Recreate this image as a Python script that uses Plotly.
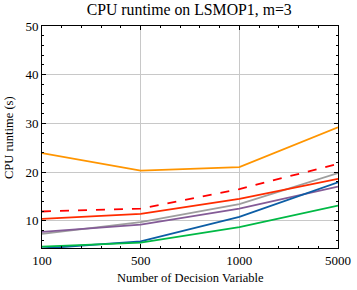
import plotly.graph_objects as go

categories = ["100", "500", "1000", "5000"]
orange = [23.9, 20.3, 21.0, 29.2]
red_dashed = [11.9, 12.5, 16.5, 21.7]
red = [10.4, 11.4, 14.5, 18.6]
gray = [7.3, 9.7, 13.4, 19.8]
purple = [7.7, 9.2, 12.5, 17.0]
blue = [4.3, 5.75, 10.8, 17.9]
green = [4.7, 5.5, 8.7, 13.1]

series = [
    ("orange", orange, "#FF9500", "solid"),
    ("gray", gray, "#9e9e9e", "solid"),
    ("purple", purple, "#845B97", "solid"),
    ("red", red, "#FF2C00", "solid"),
    ("blue", blue, "#0C5DA5", "solid"),
    ("green", green, "#00B945", "solid"),
    ("red_dashed", red_dashed, "#FF0000", "dash"),
]

xs = list(range(len(categories)))
fig = go.Figure()
for name, vals, color, dash in series:
    fig.add_trace(go.Scatter(x=xs, y=vals, mode="lines", name=name,
                             line=dict(color=color, width=1.8, dash=dash),
                             showlegend=False))

font = "Liberation Serif"
fig.update_layout(
    width=357, height=290,
    margin=dict(l=42, r=19, t=26, b=42),
    paper_bgcolor="white", plot_bgcolor="white",
    font=dict(family=font, size=12.5, color="black"),
    title=dict(text="CPU runtime on LSMOP1, m=3", x=0.53, xanchor="center",
               y=0.985, yanchor="top", font=dict(size=15.8)),
    annotations=[
        dict(text="Number of Decision Variable", xref="paper", yref="paper",
             x=0.5, y=-0.135, xanchor="center", yanchor="middle",
             showarrow=False, font=dict(size=12.5)),
        dict(text="CPU runtime (s)", xref="paper", yref="paper",
             x=-0.1115, y=0.5, xanchor="center", yanchor="middle", textangle=-90,
             showarrow=False, font=dict(size=12.5)),
    ],
)
fig.update_xaxes(
    range=[0, 3], tickmode="array", tickvals=xs, ticktext=categories,
    tickfont=dict(size=13), ticklabeloverflow="allow", automargin=False,
    showgrid=True, gridcolor="#c8c8c8", gridwidth=1,
    showline=True, linecolor="black", linewidth=1, mirror="ticks",
    ticks="inside", ticklen=4, tickcolor="black",
    minor=dict(dtick=0.2, tick0=0, ticks="inside", ticklen=2, tickcolor="black", showgrid=False),
    zeroline=False,
)
fig.update_yaxes(
    range=[4.4, 50], tickmode="array", tickvals=[10, 20, 30, 40, 50],
    tickfont=dict(size=13), ticklabeloverflow="allow", automargin=False,
    showgrid=True, gridcolor="#c8c8c8", gridwidth=1,
    showline=True, linecolor="black", linewidth=1, mirror="ticks",
    ticks="inside", ticklen=4, tickcolor="black",
    minor=dict(dtick=2, tick0=0, ticks="inside", ticklen=2, tickcolor="black", showgrid=False),
    zeroline=False,
)
fig.write_html("out.html", config={"displayModeBar": False})

with open("out.html", "r", encoding="utf-8") as f:
    html = f.read()
html = html.replace("<body>", '<body style="margin:0;padding:0;overflow:hidden">', 1)
with open("out.html", "w", encoding="utf-8") as f:
    f.write(html)
